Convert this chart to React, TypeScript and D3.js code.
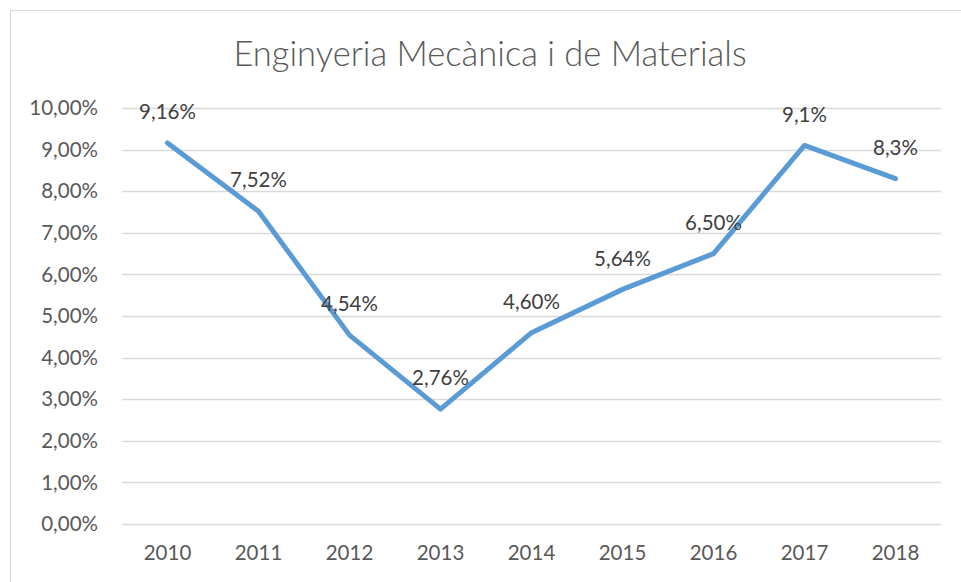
import React from 'react'
import * as d3 from 'd3'

const years = ['2010', '2011', '2012', '2013', '2014', '2015', '2016', '2017', '2018']
const rates = [9.16, 7.52, 4.54, 2.76, 4.6, 5.64, 6.5, 9.1, 8.3]
const rateLabels = ['9,16%', '7,52%', '4,54%', '2,76%', '4,60%', '5,64%', '6,50%', '9,1%', '8,3%']
const yTicks = [0, 1, 2, 3, 4, 5, 6, 7, 8, 9, 10]

const W = 961
const H = 582
const font = 'Lato, "Open Sans", sans-serif'

const App = () => {
  const x = d3.scaleBand().domain(years).range([122, 941]).padding(0)
  const y = d3.scaleLinear().domain([0, 10]).range([524, 108])
  const cx = (d: string) => (x(d) as number) + x.bandwidth() / 2

  const myLine = d3
    .line<number>()
    .x((v, i) => cx(years[i]))
    .y(v => y(v))

  return (
    <svg width={W} height={H} style={{ position: 'absolute', left: 0, top: 0, background: '#fff' }}>
      <rect x={10.5} y={10.5} width={W + 20} height={H + 20} fill="#fff" stroke="#d9d9d9" />
      <text x={490} y={66} textAnchor="middle" fontFamily={font} fontWeight={300} fontSize={34.5} fill="#595959">
        Enginyeria Mecànica i de Materials
      </text>
      {yTicks.map(t => (
        <g key={t}>
          <line x1={122} x2={941} y1={Math.round(y(t)) + 0.5} y2={Math.round(y(t)) + 0.5} stroke="#d9d9d9" strokeWidth={1.3} />
          <text x={98} y={y(t)} dy="0.35em" textAnchor="end" fontFamily={font} fontSize={20.5} fill="#595959">
            {t.toFixed(2).replace('.', ',') + '%'}
          </text>
        </g>
      ))}
      {years.map(yr => (
        <text key={yr} x={cx(yr)} y={553} dy="0.35em" textAnchor="middle" fontFamily={font} fontSize={20.5} fill="#595959">
          {yr}
        </text>
      ))}
      <path d={myLine(rates) || ''} fill="none" stroke="#5b9bd5" strokeWidth={5} strokeLinejoin="round" strokeLinecap="round" />
      {rates.map((v, i) => (
        <text key={i} x={cx(years[i])} y={y(v) - 31} dy="0.35em" textAnchor="middle" fontFamily={font} fontSize={20.5} fill="#404040">
          {rateLabels[i]}
        </text>
      ))}
    </svg>
  )
}

export default App
